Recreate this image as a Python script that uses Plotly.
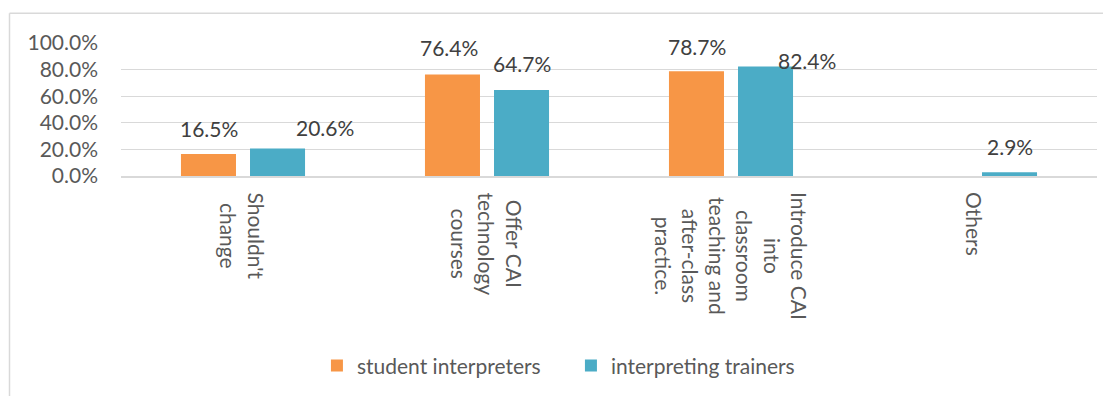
import plotly.graph_objects as go

categories = ["Shouldn't<br>change", "Offer CAI<br>technology<br>courses",
              "Introduce CAI<br>into<br>classroom<br>teaching and<br>after-class<br>practice.",
              "Others"]
series_names = ["student interpreters", "interpreting trainers"]
student_values = [0.165, 0.764, 0.787, None]
trainer_values = [0.206, 0.647, 0.824, 0.029]
y_ticks = [0.0, 0.2, 0.4, 0.6, 0.8, 1.0]

colors = ["#F79646", "#4BACC6"]
FONT = "Lato"
TXT = "#595959"

fig = go.Figure()
for name, vals, col in zip(series_names, [student_values, trainer_values], colors):
    fig.add_trace(go.Bar(name=name, x=categories, y=vals, marker_color=col,
                         marker_line_width=0))

# data label offsets (x shift per series, plus manual adjustments)
series_shift = [-34.5, 34.5]
label_adjust = [
    [(0, -26), (-4, -27), (0, -25), (0, 0)],
    [(47, -21), (0, -26), (41, -6), (0, -26)],
]
for si, vals in enumerate([student_values, trainer_values]):
    for ci, v in enumerate(vals):
        if v is None:
            continue
        dx, dy = label_adjust[si][ci]
        fig.add_annotation(x=categories[ci], y=v, xref="x", yref="y",
                           text=f"{v*100:.1f}%", showarrow=False,
                           xanchor="center", yanchor="middle",
                           xshift=series_shift[si] + dx, yshift=-dy,
                           font=dict(family=FONT, size=21, color="#404040"))

# category labels (rotated, centered lines)
for c in categories:
    fig.add_annotation(x=c, y=0, xref="x", yref="paper", text=c,
                       textangle=90, showarrow=False, align="center",
                       xanchor="center", yanchor="top", yshift=-14,
                       font=dict(family=FONT, size=21, color=TXT))

# chart border (left and top edges visible)
bx = (9.5 - 121) / 976
by = (177 - 13) / 134
fig.add_shape(type="line", xref="paper", yref="paper", x0=bx, x1=bx, y0=by, y1=-2.0,
              line=dict(color="#D9D9D9", width=1.5))
fig.add_shape(type="line", xref="paper", yref="paper", x0=bx, x1=1.05, y0=by, y1=by,
              line=dict(color="#D9D9D9", width=1.5))

fig.update_layout(
    width=1103, height=388,
    margin=dict(l=113, r=14, t=35, b=219, pad=0),
    paper_bgcolor="white", plot_bgcolor="white",
    barmode="group", bargap=0.434, bargroupgap=0.203,
    font=dict(family=FONT, size=21, color=TXT),
    showlegend=True,
    legend=dict(orientation="h", x=0.461, xanchor="center", y=-1.41, yanchor="middle",
                font=dict(family=FONT, size=21, color=TXT), traceorder="normal",
                itemsizing="constant", entrywidth=209, entrywidthmode="pixels"),
    xaxis=dict(showticklabels=False, showgrid=False, showline=True,
               linecolor="#D9D9D9", linewidth=1.5, ticks="", zeroline=False),
    yaxis=dict(range=[0, 1.0], tickvals=y_ticks, tickformat=".1%",
               showgrid=True, gridcolor="#D9D9D9", gridwidth=1.3,
               zeroline=False, showline=False, ticks="", ticklabelstandoff=22,
               tickfont=dict(family=FONT, size=21, color=TXT)),
)

fig.write_html("out.html")
